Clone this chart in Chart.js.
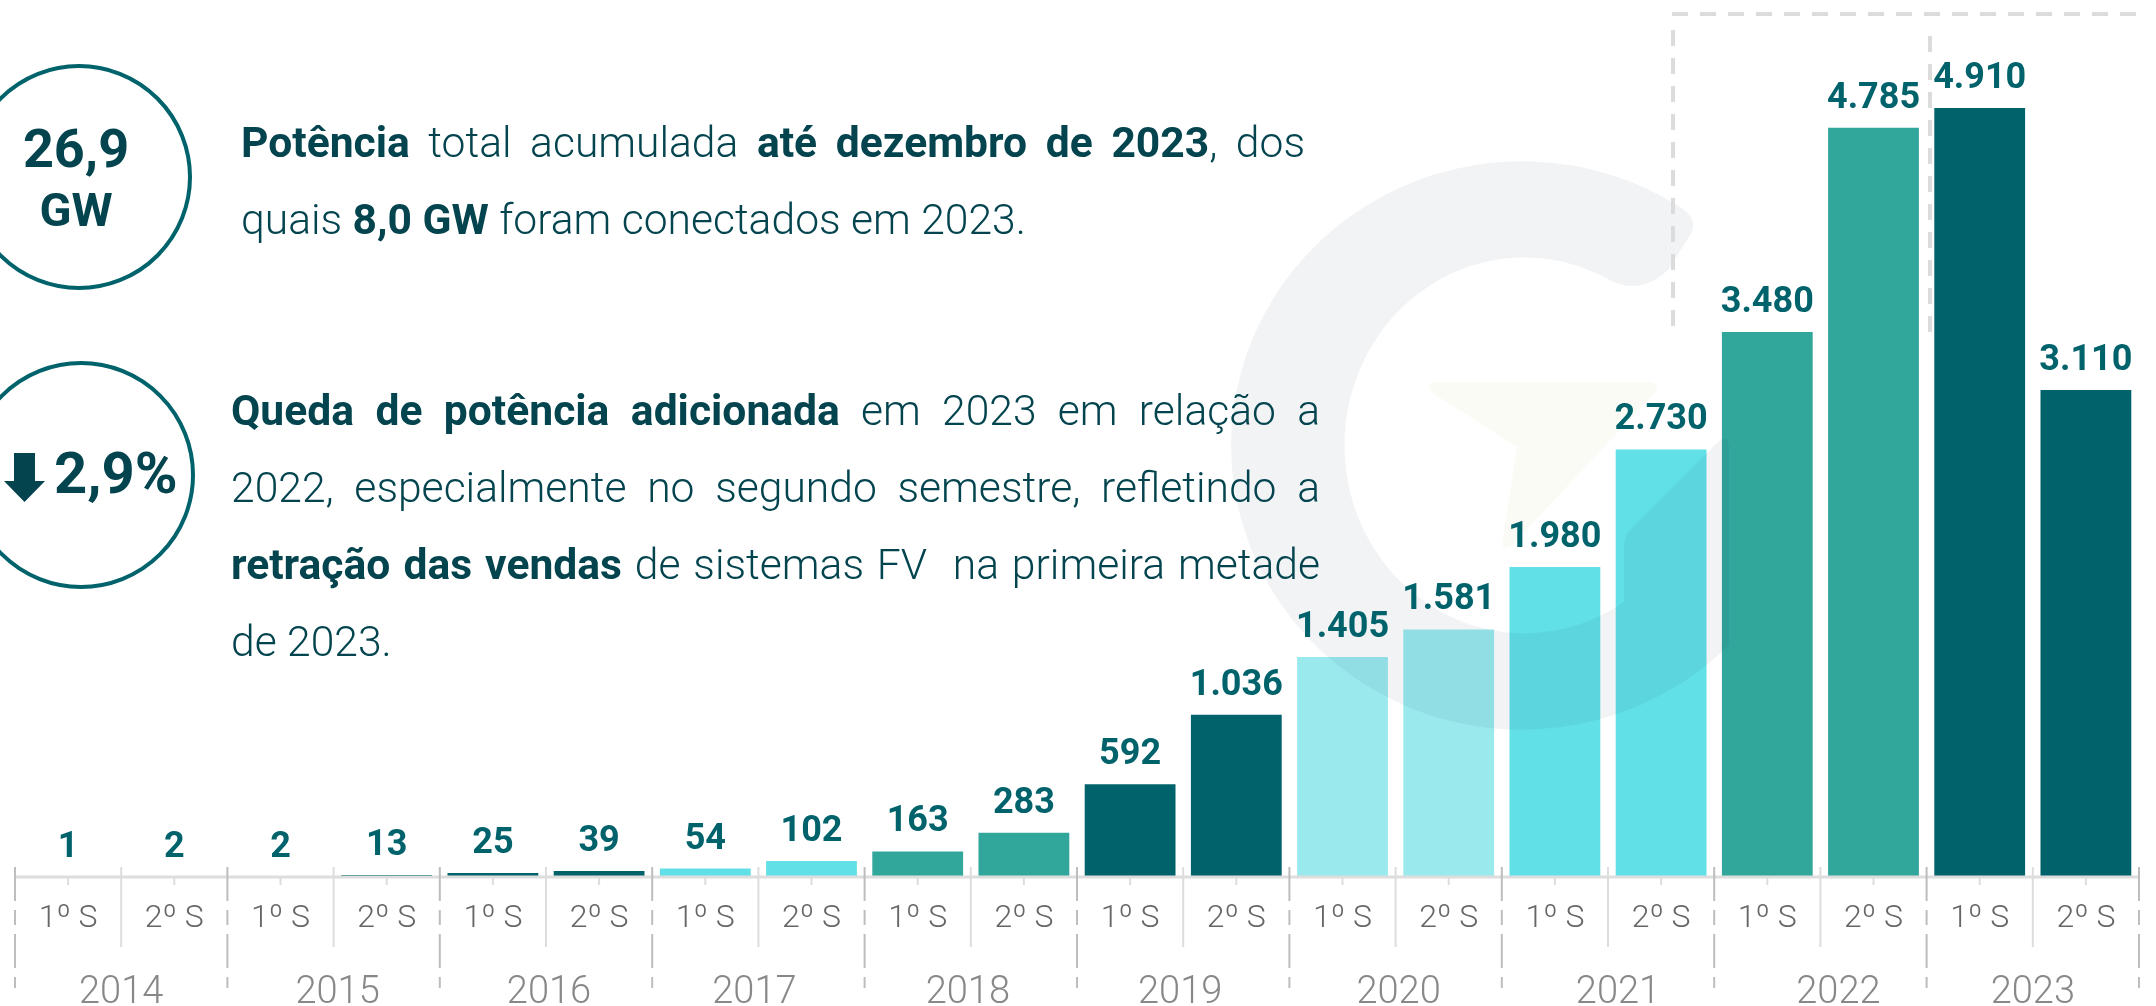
<!DOCTYPE html>
<html lang="pt-BR">
<head>
<meta charset="utf-8">
<title>Potência acumulada</title>
<script src="https://cdn.jsdelivr.net/npm/chart.js@4"></script>
<style>
    html, body { margin: 0; background: #fff; overflow: hidden; }
    #wrap { position: relative; width: 2156px; height: 1006px; font-family: Roboto, sans-serif; color: #03444f; }
    #chart, #overlay { position: absolute; left: 0; top: 0; }
    #overlay { pointer-events: none; }
    .line { position: absolute; font-size: 42.6px; line-height: 50px; font-weight: 300; white-space: pre-wrap; }
    .just { text-align: justify; text-align-last: justify; white-space: normal; }
    .line b, .big { font-weight: 700; }
    .big { position: absolute; text-align: center; }
</style>
</head>
<body>
<div id="wrap">
    <canvas id="chart" width="2156" height="1006"></canvas>
    <svg id="overlay" width="2156" height="1006" viewBox="0 0 2156 1006">
        <!-- caixa tracejada -->
        <g fill="none" stroke="#dcdcdc" stroke-width="4" stroke-dasharray="16 12">
            <path d="M1672 14 L2146 14"/>
            <path d="M1673 30 L1673 326"/>
            <path d="M1930 36 L1930 332"/>
        </g>
        <!-- circulos -->
        <circle cx="79" cy="177" r="111" fill="none" stroke="#00626b" stroke-width="4"/>
        <circle cx="81" cy="475" r="112" fill="none" stroke="#00626b" stroke-width="4"/>
        <path d="M14 453 L35 453 L35 481 L45 481 L24.5 502 L4 481 L14 481 Z" fill="#03444f"/>
    </svg>

    <div class="big" style="left:0;width:152px;top:118px;font-size:54px;line-height:62px">26,9</div>
    <div class="big" style="left:0;width:152px;top:182px;font-size:47px;line-height:56px">GW</div>
    <div class="big" style="left:54px;top:438px;font-size:58px;line-height:70px">2,9%</div>

    <div class="line just" style="left:241px;top:117px;width:1064px"><b>Potência</b> total acumulada <b>até dezembro de 2023</b>, dos</div>
    <div class="line" style="left:241px;top:194px"><span>quais </span><b>8,0 GW</b> foram conectados em 2023.</div>

    <div class="line just" style="left:231px;top:385px;width:1089px"><b>Queda de potência adicionada</b> em 2023 em relação a</div>
    <div class="line just" style="left:231px;top:462px;width:1089px">2022, especialmente no segundo semestre, refletindo a</div>
    <div class="line just" style="left:231px;top:539px;width:1089px"><b>retração das vendas</b> de sistemas FV&nbsp; na primeira metade</div>
    <div class="line" style="left:231px;top:616px">de 2023.</div>
</div>

<script>
const semesters = ["1º S", "2º S", "1º S", "2º S", "1º S", "2º S", "1º S", "2º S", "1º S", "2º S",
                   "1º S", "2º S", "1º S", "2º S", "1º S", "2º S", "1º S", "2º S", "1º S", "2º S"];
const years = ["2014", "2015", "2016", "2017", "2018", "2019", "2020", "2021", "2022", "2023"];
const power = [1, 2, 2, 13, 25, 39, 54, 102, 163, 283, 592, 1036, 1405, 1581, 1980, 2730, 3480, 4785, 4910, 3110];

const DARK = "#00626b", CYAN = "#62e0e7", GREEN = "#31a69b", PALE = "#99e9ed";
const yearColors = [DARK, DARK, DARK, CYAN, GREEN, DARK, PALE, CYAN, GREEN, DARK];
// os anos nao ficam bem no centro do intervalo no original
const yearNudge = [0, 4, 3, -4, -3, -3, 3, 10, 18, 0];

// numero no formato brasileiro, ex. 4.910
function formatValue(v) {
    return String(v).replace(/\B(?=(\d{3})+$)/g, ".");
}

// marca d'agua por cima das barras, rotulos por cima dela
const watermark = {
    id: "watermark",
    afterDatasetsDraw(chart) {
        const ctx = chart.ctx;
        ctx.save();
        ctx.fillStyle = "rgba(10,40,70,0.055)";
        ctx.fill(new Path2D("M1680 207 A291 285 0 0 0 1231 445 A291 285 0 0 0 1729 645 L1729 449 Q1729 432 1716 444 L1630 530 Q1624 536 1624 546 L1624 602 A180 188 0 1 1 1610 280 Q1640 296 1668 270 L1692 232 Q1697 218 1680 207 Z"));
        ctx.fillStyle = "#fbfbf5";
        ctx.fill(new Path2D("M1436 382 L1650 382 Q1662 384 1654 394 L1512 545 Q1500 554 1503 538 L1517 447 L1434 394 Q1424 384 1436 382 Z"));
        ctx.restore();
    }
};

// rotulos em cima das barras e anos no eixo
const barLabels = {
    id: "barLabels",
    afterDatasetsDraw(chart) {
        const ctx = chart.ctx;
        ctx.save();
        ctx.font = "700 36px Roboto";
        ctx.fillStyle = DARK;
        ctx.textAlign = "center";
        ctx.textBaseline = "alphabetic";
        chart.getDatasetMeta(0).data.forEach((bar, i) => {
            ctx.fillText(formatValue(power[i]), bar.x, bar.y - 20);
        });

        const yearScale = chart.scales.years;
        ctx.font = "300 38px Roboto";
        ctx.fillStyle = "#888888";
        years.forEach((y, i) => {
            ctx.fillText(y, yearScale.getPixelForValue(i) + yearNudge[i], 1003);
        });
        ctx.restore();
    }
};

// separadores do eixo: semestres e anos
const axisLines = {
    id: "axisLines",
    afterDraw(chart) {
        const ctx = chart.ctx;
        const x = chart.scales.x;
        const base = chart.chartArea.bottom;
        const step = x.width / semesters.length;
        ctx.save();
        ctx.strokeStyle = "#dddddd";
        ctx.lineWidth = 3;
        ctx.beginPath();
        ctx.moveTo(x.left, base);
        ctx.lineTo(x.right, base);
        ctx.stroke();

        ctx.lineWidth = 2;
        semesters.forEach((s, i) => {
            const c = x.getPixelForValue(i);
            ctx.strokeStyle = "#dddddd";
            ctx.beginPath();
            ctx.moveTo(c, base);
            ctx.lineTo(c, base + 8);
            ctx.stroke();
            if (i % 2 === 1) {
                ctx.beginPath();
                ctx.moveTo(c + step / 2 - step, base - 10);
                ctx.lineTo(c + step / 2 - step, base + 70);
                ctx.stroke();
            }
        });

        ctx.strokeStyle = "#bdbdbd";
        ctx.setLineDash([34, 9, 15, 9]);
        years.forEach((y, i) => {
            const px = x.left + i * 2 * step;
            ctx.beginPath();
            ctx.moveTo(px, base - 10);
            ctx.lineTo(px, base + 111);
            ctx.stroke();
        });
        ctx.beginPath();
        ctx.moveTo(x.right, base - 10);
        ctx.lineTo(x.right, base + 111);
        ctx.stroke();
        ctx.restore();
    }
};

new Chart(document.getElementById("chart"), {
    type: "bar",
    data: {
        labels: semesters,
        datasets: [{
            data: power,
            backgroundColor: power.map((v, i) => yearColors[Math.floor(i / 2)]),
            categoryPercentage: 1,
            barPercentage: 0.855
        }]
    },
    options: {
        responsive: false,
        animation: false,
        layout: { padding: { left: 15, right: 17, top: 0, bottom: 0 } },
        plugins: { legend: { display: false }, tooltip: { enabled: false } },
        scales: {
            y: { display: false, min: 0, max: 5600 },
            x: {
                position: "bottom",
                grid: { display: false },
                border: { display: false },
                ticks: {
                    autoSkip: false, maxRotation: 0, padding: 15,
                    color: "#666666",
                    font: { family: "Roboto", size: 32, weight: "300" }
                },
                afterFit(scale) { scale.height = 69; }
            },
            years: {
                type: "category",
                position: "bottom",
                labels: years,
                grid: { display: false },
                border: { display: false },
                ticks: { display: false },
                afterFit(scale) { scale.height = 60; }
            }
        }
    },
    plugins: [watermark, barLabels, axisLines]
});
</script>
</body>
</html>
